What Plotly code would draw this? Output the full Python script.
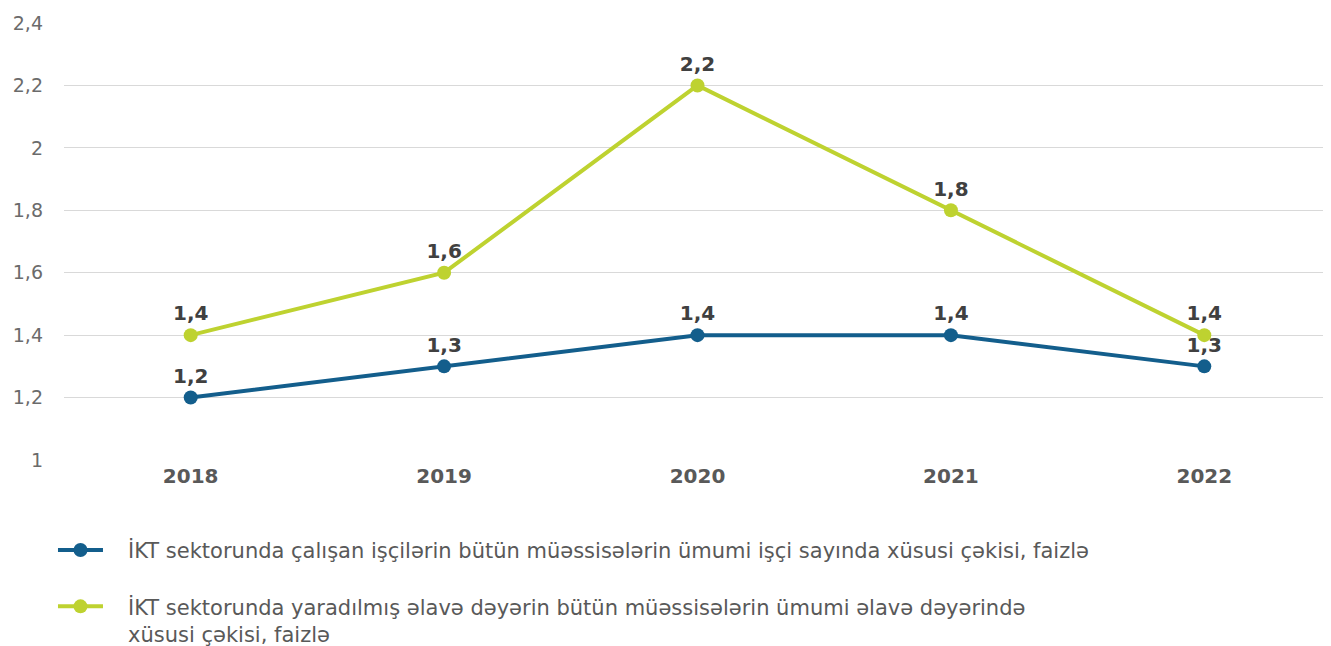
import plotly.graph_objects as go

years = ["2018", "2019", "2020", "2021", "2022"]
employees_share = [1.2, 1.3, 1.4, 1.4, 1.3]
value_added_share = [1.4, 1.6, 2.2, 1.8, 1.4]
name_employees = "İKT sektorunda çalışan işçilərin bütün müəssisələrin ümumi işçi sayında xüsusi çəkisi, faizlə"
name_value_added_1 = "İKT sektorunda yaradılmış əlavə dəyərin bütün müəssisələrin ümumi əlavə dəyərində"
name_value_added_2 = "xüsusi çəkisi, faizlə"

blue = "#135E8C"
green = "#BED230"
FONT = "DejaVu Sans"
label_font = dict(family=FONT, size=20, color="#404040", weight="bold")
pad = "\u00a0\u00a0\u00a0"

def fmt(v):
    return f"{v:.1f}".replace(".", ",")

fig = go.Figure()
fig.add_trace(go.Scatter(
    x=years, y=employees_share, name=pad + name_employees, mode="lines+markers+text",
    line=dict(color=blue, width=4), marker=dict(color=blue, size=14),
    text=[fmt(v) for v in employees_share], textposition="top center",
    textfont=label_font, legendgroup="a", cliponaxis=False,
))
fig.add_trace(go.Scatter(
    x=years, y=value_added_share, name=pad + name_value_added_1 + "<br>" + pad + name_value_added_2,
    mode="lines+markers+text",
    line=dict(color=green, width=4), marker=dict(color=green, size=14),
    text=[fmt(v) for v in value_added_share], textposition="top center",
    textfont=label_font, legendgroup="b", cliponaxis=False,
))

fig.update_layout(
    width=1323, height=638,
    margin=dict(l=56, r=0, t=15, b=186, autoexpand=False),
    paper_bgcolor="white", plot_bgcolor="white",
    separators=", ",
    font=dict(family=FONT, color="#595959"),
    xaxis=dict(type="category", range=[-0.5, 4.5], showgrid=False, showline=False, zeroline=False,
               tickfont=dict(family=FONT, size=20, color="#595959", weight="bold"),
               ticklabelstandoff=2, automargin=False, tickangle=0),
    yaxis=dict(range=[1, 2.4], dtick=0.2, showgrid=True, gridcolor="#D9D9D9", gridwidth=1,
               zeroline=False, showline=False,
               tickfont=dict(family=FONT, size=19, color="#6B6B6B"),
               ticklabelstandoff=20, automargin=False),
    legend=dict(orientation="v", xref="container", x=0.034, xanchor="left",
                yref="container", y=0.182, yanchor="top",
                font=dict(family=FONT, size=21, color="#595959"),
                tracegroupgap=26, itemwidth=45, valign="top"),
    showlegend=True,
)

fig.write_html("out.html")
